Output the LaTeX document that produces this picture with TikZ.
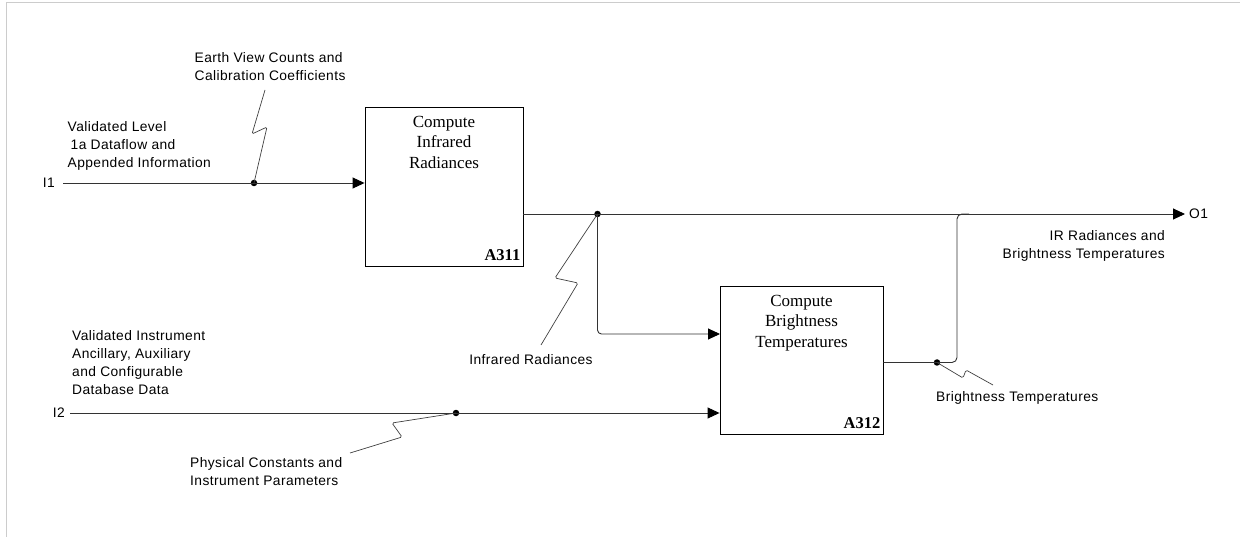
\documentclass[tikz,border=0pt]{standalone}
\usepackage{fontspec}
\setmainfont{Liberation Serif}
\newfontfamily\labelfont[LetterSpace=3]{Liberation Sans}
\usetikzlibrary{arrows.meta}

\begin{document}
\begin{tikzpicture}[x=1pt,y=-1pt,
  activity/.style={draw=black,line width=0.9pt,inner sep=0pt},
  acttitle/.style={anchor=north,inner sep=0pt,align=center,
    font=\fontsize{17}{20.5}\selectfont},
  actid/.style={anchor=base east,inner sep=0pt,
    font=\fontsize{16.5}{18}\selectfont\bfseries},
  lbl/.style={inner sep=0pt,font=\labelfont\fontsize{13.8}{18}\selectfont},
  flow/.style={draw=black!80,line width=0.9pt},
  arrowflow/.style={flow,-{Triangle[length=12pt,width=11pt,color=black]}},
  squiggle/.style={draw=black!75,line width=0.7pt,rounded corners=1.5pt},
  junction/.style={circle,fill=black,inner sep=0pt,minimum size=6.5pt}]

\useasboundingbox (0,0) rectangle (1240,537);
\draw[black!20,line width=1pt] (6,537) -- (6,3) -- (1240,3);

% activity boxes
\node[activity,minimum width=158pt,minimum height=159pt] (a311) at (444,186.5) {};
\node[activity,minimum width=163pt,minimum height=148pt] (a312) at (801.5,360) {};

\node[acttitle] (t311) at (444,116) {Compute\\Infrared\\Radiances};
\node[acttitle] (t312) at (801.5,295) {Compute\\Brightness\\Temperatures};
\node[actid] (id311) at ([xshift=-3pt,yshift=5.5pt]a311.south east) {A311};
\node[actid] (id312) at ([xshift=-3pt,yshift=5.5pt]a312.south east) {A312};

% boundary labels
\node[lbl,anchor=east] (i1) at (55,183) {I1};
\node[lbl,anchor=east] (i2) at (65,413) {I2};
\node[lbl,anchor=west] (o1) at (1189,214) {O1};

% junctions
\node[junction] (d1) at (254,183) {};
\node[junction] (d2) at (597.5,214) {};
\node[junction] (d3) at (456,413) {};
\node[junction] (d4) at (937,362.5) {};
\coordinate (in1) at (720,334);
\coordinate (j1) at (957,214);

% flows
\draw[arrowflow,shorten <=8pt] (i1.east) -- (i1.east -| a311.west);
\draw[arrowflow,shorten >=4pt] (o1.west -| a311.east) -- (o1.west);
\draw[arrowflow,rounded corners=4pt] (d2.center) |- (in1);
\draw[arrowflow,shorten <=5pt] (i2.east) -- (i2.east -| a312.west);
\draw[flow,rounded corners=5pt] (d4.center -| a312.east) -| (j1) -- ++(12,0);

% arrow labels
\node[lbl,anchor=west,align=left] (lv1) at (67.5,146)
  {Validated Level\\\hspace*{3pt}1a Dataflow and\\Appended Information};
\node[lbl,anchor=west,align=left] (lev) at (194.5,67)
  {Earth View Counts and\\Calibration Coefficients};
\node[lbl,anchor=west,align=left] (lvi) at (72,363)
  {Validated Instrument\\Ancillary, Auxiliary\\and Configurable\\Database Data};
\node[lbl,anchor=west,align=left] (lpc) at (190,472)
  {Physical Constants and\\Instrument Parameters};
\node[lbl] (lir) at (531,360) {Infrared Radiances};
\node[lbl,anchor=west] (lbt) at (936,398) {Brightness Temperatures};
\node[lbl,anchor=east,align=right] (lout) at (1165,246)
  {IR Radiances and\\Brightness Temperatures};

% squiggles tying labels to flows
\draw[squiggle] (265,90) -- (252,134) -- (267,127) -- (d1.center);
\draw[squiggle] (d2.center) -- (555,278) -- (578,283) -- (541,345);
\draw[squiggle] (d3.center) -- (392,423) -- (402,437) -- (350,453);
\draw[squiggle] (d4.center) -- (963,378) -- (966,370) -- (993,385);
\end{tikzpicture}
\end{document}
